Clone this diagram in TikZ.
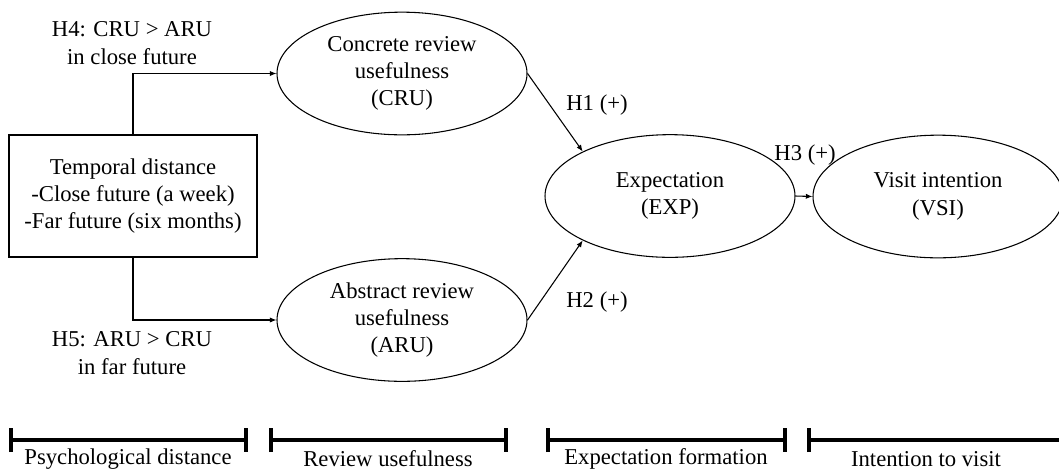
\documentclass[tikz,border=0pt]{standalone}
\usepackage{fontspec}
\setmainfont{Liberation Serif}
\usepackage{tikz}
\usetikzlibrary{shapes.geometric, arrows.meta, positioning}

\begin{document}
\begin{tikzpicture}[
    x=0.75pt, y=-0.75pt,
    every node/.style={font=\fontsize{17}{20.5}\selectfont, align=center},
    factor/.style={rectangle, draw, line width=0.8pt, minimum width=186pt, minimum height=91.5pt, inner sep=0pt},
    construct/.style={ellipse, draw, line width=0.8pt, minimum width=187.5pt, minimum height=92pt, inner sep=0pt},
    arrow/.style={-{Latex[length=5pt, width=4pt]}, line width=0.8pt},
    stagebar/.style={line width=2.4pt, {Bar[width=18pt, line width=3pt]}-{Bar[width=18pt, line width=3pt]}},
    stageopen/.style={line width=2.4pt, {Bar[width=18pt, line width=3pt]}-}
]
\clip (0,0) rectangle (1059,472);

% Column 1: Temporal distance
\node[factor] (temp) at (133,196) {Temporal distance\\-Close future (a week)\\-Far future (six months)};
\node (h4) at (132,43) {H4: CRU > ARU\\in close future};
\node (h5) at (132,353) {H5: ARU > CRU\\in far future};

% Column 2: Review usefulness
\node[construct] (cru) at (402,73.5) {Concrete review\\usefulness\\(CRU)};
\node[construct] (aru) at (402,320) {Abstract review\\usefulness\\(ARU)};

% Column 3 and 4: Expectation and visit intention
\node[construct] (exp) at (670,196) {Expectation\\(EXP)};
\node[construct] (vsi) at (938,196.5) {Visit intention\\(VSI)};

% Hypothesis labels
\node (h1) at (597,105) {H1 (+)};
\node (h2) at (597,302) {H2 (+)};
\node (h3) at (805,155) {H3 (+)};

% Arrows
\draw[arrow] (temp.north) |- (cru.west);
\draw[arrow] (temp.south) |- (aru.west);
\draw[arrow] (cru.east) -- (exp.153);
\draw[arrow] (aru.east) -- (exp.207);
\draw[arrow] (exp.east) -- (vsi.west);

% Stages along the bottom
\coordinate (s1a) at (9,440);   \coordinate (s1b) at (248,440);
\coordinate (s2a) at (269,440); \coordinate (s2b) at (508,440);
\coordinate (s3a) at (546,440); \coordinate (s3b) at (787,440);
\coordinate (s4a) at (807,440); \coordinate (s4b) at (1075,440);
\draw[stagebar] (s1a) -- (s1b);
\draw[stagebar] (s2a) -- (s2b);
\draw[stagebar] (s3a) -- (s3b);
\draw[stageopen] (s4a) -- (s4b);
\node (psy) at (128,459) {Psychological distance};
\node (rev) at (388,459) {Review usefulness};
\node (expf) at (666,459) {Expectation formation};
\node (vis) at (926,459) {Intention to visit};

\end{tikzpicture}
\end{document}
